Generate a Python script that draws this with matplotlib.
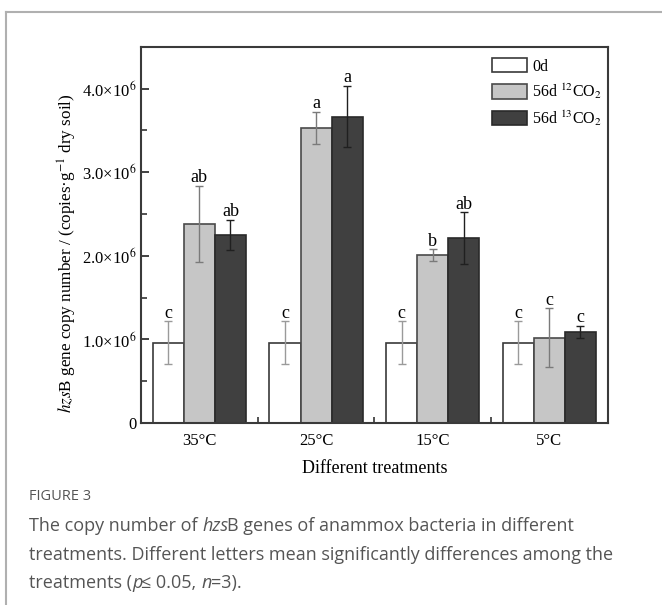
import numpy as np
import matplotlib
matplotlib.use("Agg")
import matplotlib.pyplot as plt
from matplotlib.ticker import MultipleLocator, FixedLocator, FuncFormatter

plt.rcParams['font.family'] = ['Liberation Serif', 'DejaVu Serif']
plt.rcParams['mathtext.fontset'] = 'stix'

# data (copies per g dry soil)
groups = ['35°C', '25°C', '15°C', '5°C']
series = ['0d', '56d $^{12}$CO$_2$', '56d $^{13}$CO$_2$']
mean_0d = [0.96e6, 0.96e6, 0.96e6, 0.96e6]
err_0d = [0.26e6, 0.26e6, 0.26e6, 0.26e6]
mean_12 = [2.38e6, 3.53e6, 2.01e6, 1.02e6]
err_12 = [0.46e6, 0.19e6, 0.07e6, 0.355e6]
mean_13 = [2.25e6, 3.665e6, 2.21e6, 1.09e6]
err_13 = [0.18e6, 0.37e6, 0.31e6, 0.075e6]
letters_0d = ['c', 'c', 'c', 'c']
letters_12 = ['ab', 'a', 'b', 'c']
letters_13 = ['ab', 'a', 'ab', 'c']

fig = plt.figure(figsize=(6.62, 6.05), dpi=100)
ax = fig.add_axes([0.213, 0.3008, 0.705, 0.622])

x = np.arange(1, len(groups) + 1)
w = 0.266
fills = ['white', '#c6c6c6', '#404040']
edges = ['#3a3a3a', '#4a4a4a', '#2a2a2a']
ecols = ['#9a9a9a', '#7a7a7a', '#202020']
means = [mean_0d, mean_12, mean_13]
errs = [err_0d, err_12, err_13]
lets = [letters_0d, letters_12, letters_13]

for i in range(3):
    xs = x + (i - 1) * w
    ax.bar(xs, means[i], width=w, color=fills[i], edgecolor=edges[i],
           linewidth=1.2, label=series[i], zorder=2)
    ax.errorbar(xs, means[i], yerr=errs[i], fmt='none', ecolor=ecols[i],
                elinewidth=1.0, capsize=2.9, capthick=1.0, zorder=3)
    for xx, m, e, t in zip(xs, means[i], errs[i], lets[i]):
        ax.annotate(t, (xx, m + e), xytext=(0, 2.5), textcoords='offset points',
                    ha='center', va='baseline', fontsize=13)

ax.set_xlim(0.5, 4.5)
ax.set_ylim(0, 4.5e6)
ax.set_xticks(x)
ax.set_xticklabels(groups)
ax.xaxis.set_minor_locator(FixedLocator([1.5, 2.5, 3.5]))
ax.yaxis.set_major_locator(MultipleLocator(1e6))
ax.yaxis.set_minor_locator(MultipleLocator(0.5e6))


def yfmt(v, pos):
    if v == 0:
        return '0'
    return '%.1f×10$^6$' % (v / 1e6)


ax.yaxis.set_major_formatter(FuncFormatter(yfmt))
ax.tick_params(which='both', direction='in', colors='#333333', labelcolor='black',
               labelsize=12)
ax.tick_params(which='major', length=6, width=1.3)
ax.tick_params(which='minor', length=4, width=1.2)
ax.tick_params(axis='x', pad=7)
for s in ax.spines.values():
    s.set_linewidth(1.5)
    s.set_color('#3a3a3a')

ax.set_xlabel('Different treatments', fontsize=13, labelpad=8)
ax.set_ylabel('$\\mathit{hzs}$B gene copy number / (copies·g$^{-1}$ dry soil)',
              fontsize=12.3, va='center')
ax.yaxis.set_label_coords(-0.158, 0.45)

ax.legend(loc='upper left', bbox_to_anchor=(0.752, 0.97), frameon=False,
          fontsize=11.5, handlelength=2.2, handleheight=1.0, labelspacing=0.45,
          handletextpad=0.3, borderpad=0, borderaxespad=0)

# frame around the figure panel
fig.add_artist(plt.Line2D([6 / 662, 6 / 662], [0, 1 - 12 / 605], color='#b0b0b0',
                          lw=1.5, transform=fig.transFigure))
fig.add_artist(plt.Line2D([6 / 662, 1], [1 - 12 / 605, 1 - 12 / 605], color='#b0b0b0',
                          lw=1.5, transform=fig.transFigure))

# caption, with italic pieces placed one after another
cap_font = ['Open Sans', 'DejaVu Sans']
cap_col = '#555555'
fig.text(29 / 662, 1 - 497 / 605, 'FIGURE 3', fontsize=10.5, color=cap_col,
         family=cap_font, va='center')

caption = [
    [('The copy number of ', 'normal'), ('hzs', 'italic'),
     ('B genes of anammox bacteria in different', 'normal')],
    [('treatments. Different letters mean significantly differences among the', 'normal')],
    [('treatments (', 'normal'), ('p', 'italic'), ('≤ 0.05, ', 'normal'),
     ('n', 'italic'), ('=3).', 'normal')],
]
line_y = [526, 555, 583]
renderer = fig.canvas.get_renderer()
for parts, yy in zip(caption, line_y):
    xp = 29
    for txt, st in parts:
        t = fig.text(xp / 662, 1 - yy / 605, txt, fontsize=13, color=cap_col,
                     family=cap_font, style=st, va='center')
        bb = t.get_window_extent(renderer=renderer)
        xp += bb.width - (1 if st == 'italic' else 0)

fig.savefig('out.png', dpi=100)
